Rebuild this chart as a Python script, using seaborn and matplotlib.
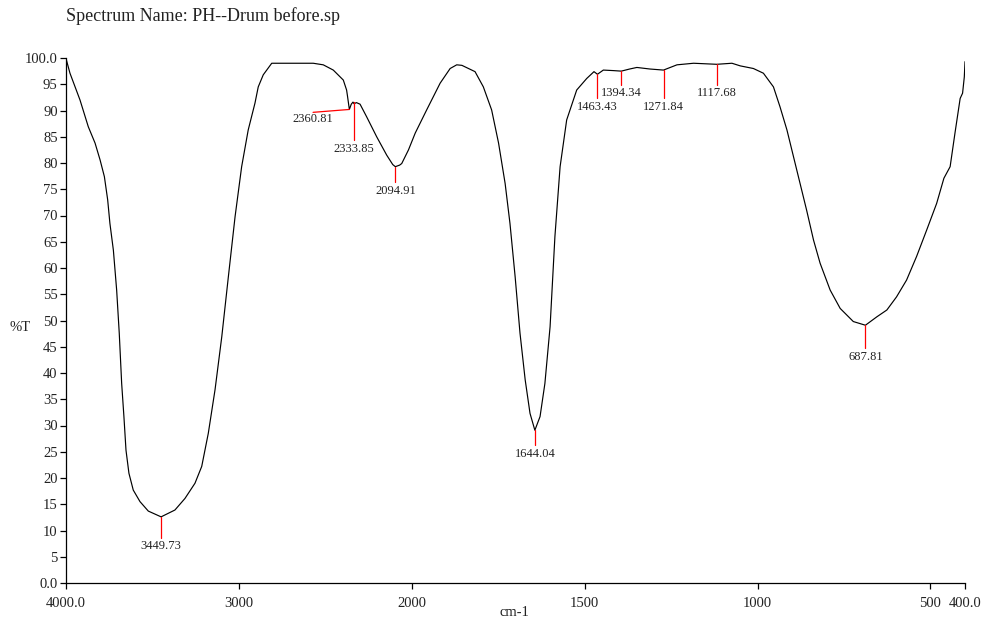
import numpy as np
import pandas as pd
import matplotlib
matplotlib.use("Agg")
import matplotlib.pyplot as plt
import seaborn as sns

# ---- data ----
wavenumber = [4000, 3977, 3919, 3871, 3832, 3803, 3778, 3759, 3746, 3726, 3707, 3692,
              3678, 3665, 3653, 3636, 3611, 3572, 3524, 3450, 3370, 3312, 3254, 3215,
              3177, 3138, 3099, 3061, 3022, 2984, 2946, 2907, 2888, 2859, 2810, 2570,
              2512, 2454, 2396, 2377, 2372, 2361, 2350, 2340, 2334, 2320, 2299, 2261,
              2203, 2145, 2110, 2095, 2070, 2058, 2019, 1990, 1957, 1918, 1889, 1870,
              1855, 1817, 1793, 1769, 1749, 1730, 1716, 1701, 1687, 1672, 1658, 1644,
              1629, 1615, 1600, 1586, 1571, 1552, 1523, 1494, 1473, 1463, 1446, 1417,
              1394, 1370, 1349, 1311, 1272, 1233, 1185, 1118, 1074, 1050, 1012, 983,
              954, 935, 915, 896, 877, 858, 838, 819, 790, 761, 723, 688, 655, 626,
              598, 569, 540, 511, 482, 461, 443, 429, 414, 407, 402, 400]
transmittance = [99.9, 97.1, 92.0, 86.9, 83.8, 80.6, 77.4, 73.0, 68.5, 63.4, 55.8, 47.6,
                 38.0, 31.7, 25.3, 20.9, 17.7, 15.5, 13.7, 12.6, 13.9, 16.1, 19.0, 22.2,
                 28.5, 36.8, 46.9, 58.3, 69.8, 79.3, 86.3, 91.4, 94.5, 96.8, 99.0, 99.0,
                 98.7, 97.7, 95.8, 93.9, 92.8, 90.2, 91.2, 91.6, 91.3, 91.5, 91.2, 88.8,
                 85.0, 81.5, 79.7, 79.3, 79.6, 79.9, 82.5, 85.7, 90.1, 95.2, 98.0, 98.7,
                 98.6, 97.4, 94.5, 90.1, 83.8, 76.1, 68.5, 58.3, 47.6, 38.7, 32.3, 29.1,
                 31.7, 38.0, 48.8, 66.0, 79.3, 88.2, 93.9, 96.1, 97.4, 96.9, 97.7, 97.6,
                 97.5, 97.9, 98.2, 97.9, 97.7, 98.7, 99.0, 98.8, 99.0, 98.5, 98.0, 97.1,
                 94.5, 90.7, 86.3, 81.2, 76.1, 71.0, 65.3, 60.9, 55.8, 52.3, 49.8, 49.1,
                 50.7, 52.0, 54.5, 57.7, 62.2, 67.2, 72.3, 77.1, 79.3, 85.7, 92.3, 93.3,
                 96.4, 99.3]

peak_labels = ["3449.73", "2360.81", "2333.85", "2094.91", "1644.04",
               "1463.43", "1394.34", "1271.84", "1117.68", "687.81"]
peak_wn = [3449.73, 2360.81, 2333.85, 2094.91, 1644.04,
           1463.43, 1394.34, 1271.84, 1117.68, 687.81]
peak_T = [12.6, 90.2, 91.6, 79.3, 29.1, 96.9, 97.5, 97.7, 98.8, 49.1]

xtick_vals = [4000, 3000, 2000, 1500, 1000, 500, 400]
xtick_labels = ["4000.0", "3000", "2000", "1500", "1000", "500", "400.0"]
ytick_vals = list(range(0, 101, 5))
ytick_labels = ["0.0"] + [str(v) for v in range(5, 100, 5)] + ["100.0"]

# ---- style ----
sns.set_style("white")
plt.rcParams["font.family"] = ["Liberation Serif", "DejaVu Serif"]

fig = plt.figure(figsize=(9.86, 6.22), dpi=100)
ax = fig.add_axes([66 / 986, 1 - 583 / 622, (965 - 66) / 986, (583 - 58) / 622])


def fwd(x):
    x = np.asarray(x, dtype=float)
    return np.where(x > 2000, 2000 + (x - 2000) / 2.0, x)


def inv(t):
    t = np.asarray(t, dtype=float)
    return np.where(t > 2000, 2000 + 2.0 * (t - 2000), t)


ax.set_xscale("function", functions=(fwd, inv))

df = pd.DataFrame({"wn": wavenumber, "T": transmittance})
sns.lineplot(data=df, x="wn", y="T", ax=ax, color="black", linewidth=0.85,
             sort=False, estimator=None)

# peak markers
drop = {"3449.73": 4.0, "2333.85": 7.3, "2094.91": 2.9, "1644.04": 2.8,
        "1463.43": 4.6, "1394.34": 2.6, "1271.84": 5.4, "1117.68": 3.9, "687.81": 4.4}
for lab, w, t in zip(peak_labels, peak_wn, peak_T):
    if lab == "2360.81":
        ax.plot([w, 2571], [t, 89.65], color="red", lw=0.9)
        ax.text(2571, 89.5, lab, ha="center", va="top", fontsize=9, color="#222222")
        continue
    d = drop[lab]
    ax.plot([w, w], [t, t - d], color="red", lw=0.9)
    ax.text(w, t - d - 0.5, lab, ha="center", va="top", fontsize=9, color="#222222")

ax.set_xlim(4000, 400)
ax.set_ylim(0, 100)
ax.set_xticks(xtick_vals)
ax.set_xticklabels(xtick_labels)
ax.set_yticks(ytick_vals)
ax.set_yticklabels(ytick_labels)
ax.minorticks_off()
ax.tick_params(axis="both", direction="out", length=4, width=0.9, colors="black",
               labelsize=10.5, labelcolor="#222222", pad=2, bottom=True, left=True)
ax.tick_params(axis="x", pad=6)

for s in ["top", "right"]:
    ax.spines[s].set_visible(False)
for s in ["left", "bottom"]:
    ax.spines[s].set_color("black")
    ax.spines[s].set_linewidth(0.9)

ax.set_xlabel("")
ax.set_ylabel("")
fig.text(514 / 986, 1 - 612 / 622, "cm-1", ha="center", va="center", fontsize=10.5,
         color="#222222")
fig.text(20 / 986, 1 - 328 / 622, "%T", ha="center", va="center", fontsize=10.5,
         color="#222222")
fig.text(66 / 986, 1 - 16 / 622, "Spectrum Name: PH--Drum before.sp", ha="left",
         va="center", fontsize=13, color="#222222")

fig.savefig("out.png", dpi=100)
